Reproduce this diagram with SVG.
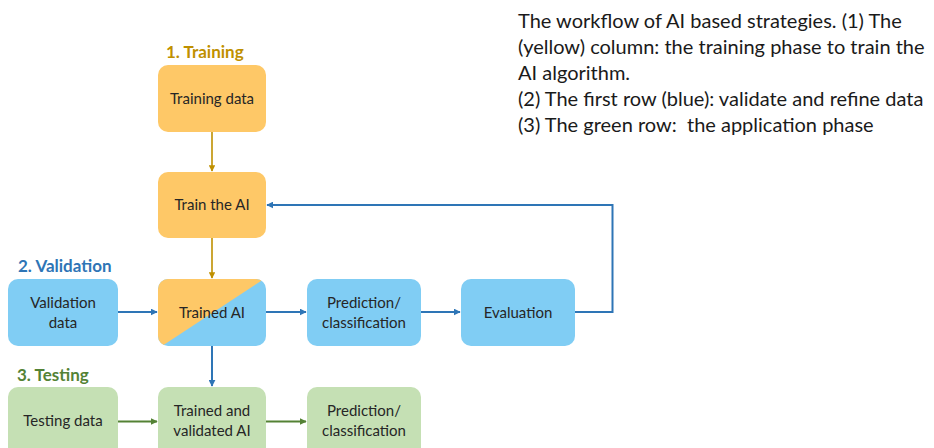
<svg xmlns="http://www.w3.org/2000/svg" width="934" height="448" viewBox="0 0 934 448">
  <style>
    .lbl { font-family: Lato, "Noto Sans", sans-serif; font-size: 15px; fill: #262626; text-anchor: middle; }
    .hdr { font-family: Lato, "Noto Sans", sans-serif; font-size: 17px; font-weight: bold; }
    .cap { font-family: Lato, "Noto Sans", sans-serif; font-size: 20px; fill: #1a1a1a; }
    .yel { fill: #FEC867; }
    .blu { fill: #80CDF4; }
    .grn { fill: #C5E0B4; }
    .cy { stroke: #BF9000; stroke-width: 1.6; fill: none; }
    .cb { stroke: #2E75B6; stroke-width: 2; fill: none; }
    .cg { stroke: #548235; stroke-width: 2; fill: none; }
  </style>
  <defs>
    <marker id="ay" viewBox="0 0 10 10" refX="9" refY="5" markerWidth="4" markerHeight="4" orient="auto">
      <path d="M0,0 L10,5 L0,10 z" fill="#BF9000"/>
    </marker>
    <marker id="ab" viewBox="0 0 10 10" refX="9" refY="5" markerWidth="3.5" markerHeight="3.5" orient="auto">
      <path d="M0,0 L10,5 L0,10 z" fill="#2E75B6"/>
    </marker>
    <marker id="ag" viewBox="0 0 10 10" refX="9" refY="5" markerWidth="3.5" markerHeight="3.5" orient="auto">
      <path d="M0,0 L10,5 L0,10 z" fill="#548235"/>
    </marker>
    <clipPath id="clipTrained">
      <rect x="158" y="279" width="108" height="67" rx="10"/>
    </clipPath>
  </defs>

  <!-- phase headings -->
  <text class="hdr" x="166" y="58" fill="#BF9000">1. Training</text>
  <text class="hdr" x="18" y="272" fill="#2E75B6">2. Validation</text>
  <text class="hdr" x="17" y="381" fill="#548235">3. Testing</text>

  <!-- caption -->
  <g id="caption" class="cap">
    <text x="518" y="28">The workflow of AI based strategies. (1) The</text>
    <text x="518" y="54">(yellow) column: the training phase to train the</text>
    <text x="518" y="80">AI algorithm.</text>
    <text x="518" y="106">(2) The first row (blue): validate and refine data</text>
    <text x="518" y="132" xml:space="preserve">(3) The green row:  the application phase</text>
  </g>

  <!-- connectors -->
  <g id="connectors">
    <line class="cy" x1="212" y1="132" x2="212" y2="171" marker-end="url(#ay)"/>
    <line class="cy" x1="212" y1="238" x2="212" y2="278" marker-end="url(#ay)"/>
    <line class="cb" x1="118" y1="312" x2="157" y2="312" marker-end="url(#ab)"/>
    <line class="cb" x1="266" y1="312" x2="306" y2="312" marker-end="url(#ab)"/>
    <line class="cb" x1="421" y1="312" x2="460" y2="312" marker-end="url(#ab)"/>
    <polyline class="cb" points="575,312 612.5,312 612.5,205 267,205" marker-end="url(#ab)"/>
    <line class="cb" x1="212" y1="346" x2="212" y2="386" marker-end="url(#ab)"/>
    <line class="cg" x1="118" y1="421.5" x2="157" y2="421.5" marker-end="url(#ag)"/>
    <line class="cg" x1="266" y1="421.5" x2="306" y2="421.5" marker-end="url(#ag)"/>
  </g>

  <!-- nodes -->
  <g id="training-data">
    <rect class="yel" x="158" y="65" width="108" height="67" rx="10"/>
    <text class="lbl" x="212" y="104">Training data</text>
  </g>
  <g id="train-the-ai">
    <rect class="yel" x="158" y="172" width="108" height="66" rx="10"/>
    <text class="lbl" x="212" y="210">Train the AI</text>
  </g>
  <g id="validation-data">
    <rect class="blu" x="8" y="279" width="110" height="67" rx="10"/>
    <text class="lbl" x="63" y="308">Validation</text>
    <text class="lbl" x="63" y="328">data</text>
  </g>
  <g id="trained-ai">
    <g clip-path="url(#clipTrained)">
      <rect class="blu" x="158" y="279" width="108" height="67"/>
      <polygon class="yel" points="158,279 264,279 162,346 158,346"/>
    </g>
    <text class="lbl" x="212" y="318">Trained AI</text>
  </g>
  <g id="prediction-blue">
    <rect class="blu" x="307" y="279" width="114" height="67" rx="10"/>
    <text class="lbl" x="364" y="308">Prediction/</text>
    <text class="lbl" x="364" y="328">classification</text>
  </g>
  <g id="evaluation">
    <rect class="blu" x="461" y="279" width="114" height="67" rx="10"/>
    <text class="lbl" x="518" y="318">Evaluation</text>
  </g>
  <g id="testing-data">
    <rect class="grn" x="8" y="387" width="110" height="70" rx="10"/>
    <text class="lbl" x="63" y="426">Testing data</text>
  </g>
  <g id="trained-validated-ai">
    <rect class="grn" x="158" y="387" width="108" height="70" rx="10"/>
    <text class="lbl" x="212" y="416">Trained and</text>
    <text class="lbl" x="212" y="436">validated AI</text>
  </g>
  <g id="prediction-green">
    <rect class="grn" x="307" y="387" width="114" height="70" rx="10"/>
    <text class="lbl" x="364" y="416">Prediction/</text>
    <text class="lbl" x="364" y="436">classification</text>
  </g>
</svg>
